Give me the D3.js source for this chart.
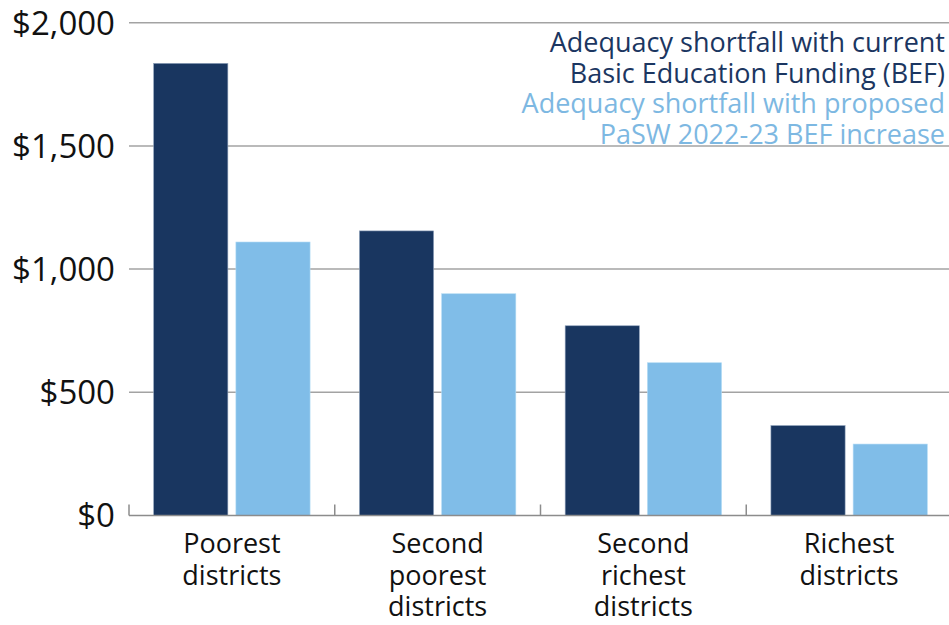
<!DOCTYPE html>
<html>
<head>
<meta charset="utf-8">
<script src="https://cdn.jsdelivr.net/npm/d3@7"></script>
<style>
  html, body { margin: 0; padding: 0; background: #fff; }
  svg { display: block; }
</style>
</head>
<body>
<svg id="chart" width="949" height="625"></svg>
<script>
// Per-student adequacy shortfall by district wealth quintile group
const categories = [
  ["Poorest", "districts"],
  ["Second", "poorest", "districts"],
  ["Second", "richest", "districts"],
  ["Richest", "districts"]
];
const categoryKeys = ["Poorest districts", "Second poorest districts", "Second richest districts", "Richest districts"];
const seriesNames = ["current", "proposed"];
const currentBEF = [1835, 1155, 770, 365];
const proposedBEF = [1110, 900, 620, 290];
const yTicks = [0, 500, 1000, 1500, 2000];
const legendLines = [
  ["Adequacy shortfall with current", "current"],
  ["Basic Education Funding (BEF)", "current"],
  ["Adequacy shortfall with proposed", "proposed"],
  ["PaSW 2022-23 BEF increase", "proposed"]
];

const colors = { current: "#193660", proposed: "#80bde8" };
const legendColors = { current: "#1b3661", proposed: "#7db8e2" };

const svg = d3.select("#chart");
const plotLeft = 129, plotRight = 952, plotTop = 22.7, plotBottom = 515.5;

const x0 = d3.scaleBand().domain(categoryKeys).range([plotLeft, plotRight]).padding(0);
const x1 = d3.scaleBand().domain(seriesNames).range([0, x0.bandwidth()])
  .paddingInner(0.0976).paddingOuter(0.3);
const y = d3.scaleLinear().domain([0, 2000]).range([plotBottom, plotTop]);

// Horizontal gridlines
svg.append("g").selectAll("line")
  .data(yTicks.filter(d => d > 0))
  .join("line")
  .attr("x1", plotLeft).attr("x2", plotRight)
  .attr("y1", d => y(d)).attr("y2", d => y(d))
  .attr("stroke", "#a3a3a3").attr("stroke-width", 1.5);

// Y-axis labels
svg.append("g").selectAll("text")
  .data(yTicks)
  .join("text")
  .attr("x", 115)
  .attr("y", d => y(d))
  .attr("dy", "0.36em")
  .attr("text-anchor", "end")
  .attr("font-family", "'Open Sans', sans-serif")
  .attr("font-size", 33)
  .attr("fill", "#111")
  .text(d => "$" + d3.format(",")(d));

// Bars
const rows = categoryKeys.map((k, i) => ({ key: k, current: currentBEF[i], proposed: proposedBEF[i] }));
const groups = svg.append("g").selectAll("g")
  .data(rows)
  .join("g")
  .attr("transform", d => `translate(${x0(d.key)},0)`);
groups.selectAll("rect")
  .data(d => seriesNames.map(s => ({ s, v: d[s] })))
  .join("rect")
  .attr("x", d => x1(d.s))
  .attr("width", x1.bandwidth())
  .attr("y", d => y(d.v))
  .attr("height", d => y(0) - y(d.v))
  .attr("fill", d => colors[d.s])
  .attr("stroke", d => d.s === "current" ? "#8fa2bb" : "#b4dcf5")
  .attr("stroke-width", 0.6);

// Bottom axis with category separators
const xAxis = svg.append("g").attr("transform", `translate(0,${plotBottom})`);
xAxis.append("line")
  .attr("x1", plotLeft).attr("x2", plotRight)
  .attr("stroke", "#8c8c8c").attr("stroke-width", 1.5);
const boundaries = categoryKeys.map(k => x0(k)).concat([x0(categoryKeys[categoryKeys.length - 1]) + x0.bandwidth()]);
xAxis.selectAll("line.tick")
  .data(boundaries)
  .join("line")
  .attr("class", "tick")
  .attr("x1", d => d).attr("x2", d => d)
  .attr("y1", 0).attr("y2", -11)
  .attr("stroke", "#8c8c8c").attr("stroke-width", 1.5);

// Category labels
const labels = svg.append("g").selectAll("text")
  .data(categoryKeys.map((k, i) => ({ k, lines: categories[i] })))
  .join("text")
  .attr("text-anchor", "middle")
  .attr("font-family", "'Open Sans', sans-serif")
  .attr("font-size", 27)
  .attr("fill", "#111");
labels.selectAll("tspan")
  .data(d => d.lines.map((t, j) => ({ t, j, cx: x0(d.k) + x0.bandwidth() / 2 })))
  .join("tspan")
  .attr("x", d => d.cx)
  .attr("y", d => 553 + d.j * 31.5)
  .text(d => d.t);

// Legend, right-aligned in the top right corner
svg.append("g").selectAll("text")
  .data(legendLines)
  .join("text")
  .attr("x", 945)
  .attr("y", (d, i) => 52 + i * 30.7)
  .attr("text-anchor", "end")
  .attr("font-family", "'Open Sans', sans-serif")
  .attr("font-size", 27)
  .attr("fill", d => legendColors[d[1]])
  .text(d => d[0]);
</script>
</body>
</html>
